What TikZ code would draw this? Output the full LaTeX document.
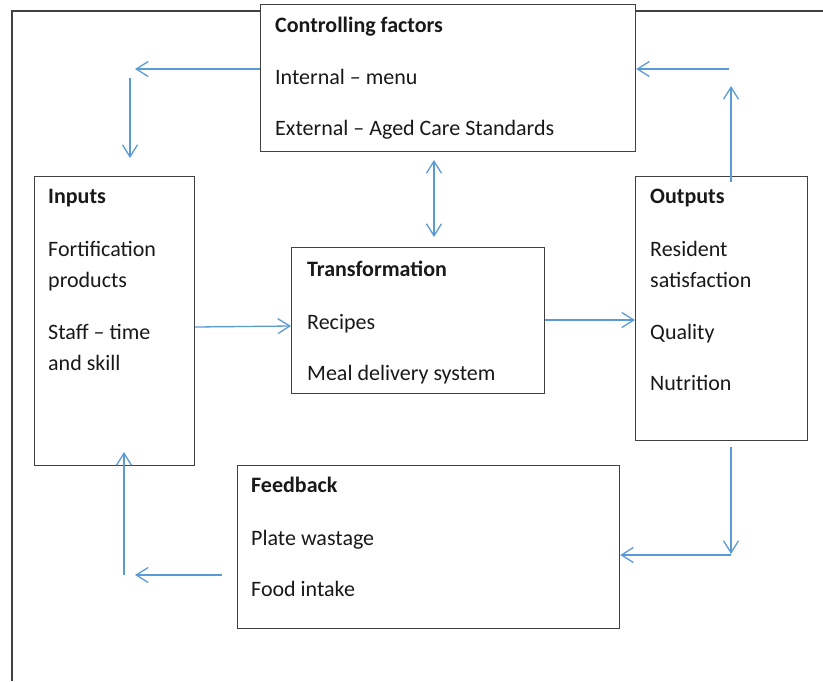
\documentclass[tikz,border=0pt]{standalone}
\usepackage{fontspec}
\setmainfont{Carlito}
\usetikzlibrary{arrows.meta}
\definecolor{arrowblue}{HTML}{5B9BD5}
\definecolor{boxline}{HTML}{404040}
\tikzset{
  box/.style={draw=boxline, line width=1.2pt, fill=white, anchor=north west, inner sep=0pt},
  txt/.style={anchor=base west, inner sep=0pt, font=\fontsize{22}{26}\selectfont, text=black!90},
  hdr/.style={txt, font=\fontsize{22}{26}\selectfont\bfseries},
  conn/.style={draw=arrowblue, line width=1.3pt, -{Straight Barb[length=12pt,width=15pt]}},
  dconn/.style={draw=arrowblue, line width=1.3pt, {Straight Barb[length=12pt,width=15pt]}-{Straight Barb[length=12pt,width=15pt]}},
  frame/.style={draw=boxline, line width=1.2pt}
}
\begin{document}
\begin{tikzpicture}[x=1pt, y=-1pt]
\useasboundingbox (0,0) rectangle (823,681);
% outer frame
\coordinate (fbl) at (12,681);
\coordinate (ftl) at (12,11);
\coordinate (ftr) at (823,11);
\draw[frame] (fbl) -- (ftl) -- (ftr);
% boxes
\node[box, minimum width=375pt, minimum height=147pt] (ctrl) at (260,4) {};
\node[box, minimum width=160pt, minimum height=289pt] (inp) at (34,176) {};
\node[box, minimum width=253pt, minimum height=146pt] (trans) at (291,247) {};
\node[box, minimum width=172pt, minimum height=264pt] (out) at (635,176) {};
\node[box, minimum width=382pt, minimum height=163pt] (fb) at (237,465) {};
% texts
\node[hdr] (t1) at (275,32) {Controlling factors};
\node[txt] (t2) at (275,84) {Internal – menu};
\node[txt] (t3) at (275,135) {External – Aged Care Standards};
\node[hdr] (i1) at (48,203) {Inputs};
\node[txt] (i2) at (48,256) {Fortification};
\node[txt] (i3) at (48,287) {products};
\node[txt] (i4) at (48,339) {Staff – time};
\node[txt] (i5) at (48,370) {and skill};
\node[hdr] (r1) at (307,276) {Transformation};
\node[txt] (r2) at (307,329) {Recipes};
\node[txt] (r3) at (307,380) {Meal delivery system};
\node[hdr] (o1) at (650,203) {Outputs};
\node[txt] (o2) at (650,256) {Resident};
\node[txt] (o3) at (650,287) {satisfaction};
\node[txt] (o4) at (650,339) {Quality};
\node[txt] (o5) at (650,390) {Nutrition};
\node[hdr] (f1) at (251,492) {Feedback};
\node[txt] (f2) at (251,545) {Plate wastage};
\node[txt] (f3) at (251,596) {Food intake};
% connector coordinates
\coordinate (c1) at (135,69);
\coordinate (c2a) at (130,78);
\coordinate (c2b) at (130,158);
\coordinate (c3a) at (124,575);
\coordinate (c3b) at (124,452);
\coordinate (c4a) at (222,575);
\coordinate (c4b) at (135,575);
\coordinate (c5a) at (731,182);
\coordinate (c5b) at (731,86);
\coordinate (c6a) at (729,69);
\coordinate (c7a) at (731,447);
\coordinate (c7b) at (731,554);
\coordinate (c8a) at (731,555);
\coordinate (c11a) at (434,160);
\coordinate (c11b) at (434,237);
% connectors
\draw[conn] (ctrl.west |- c1) -- (c1);
\draw[conn] (c2a) -- (c2b);
\draw[conn] (c3a) -- (c3b);
\draw[conn] (c4a) -- (c4b);
\draw[conn] (c5a) -- (c5b);
\draw[conn] (c6a) -- (ctrl.east |- c6a);
\draw[conn] (c7a) -- (c7b);
\draw[conn] (c8a) -- (fb.east |- c8a);
\draw[conn] (inp.east |- 0,327) -- (trans.west |- 0,326);
\draw[conn] (trans.east |- 0,320) -- (out.west |- 0,320);
\draw[dconn] (c11a) -- (c11b);
\end{tikzpicture}
\end{document}
